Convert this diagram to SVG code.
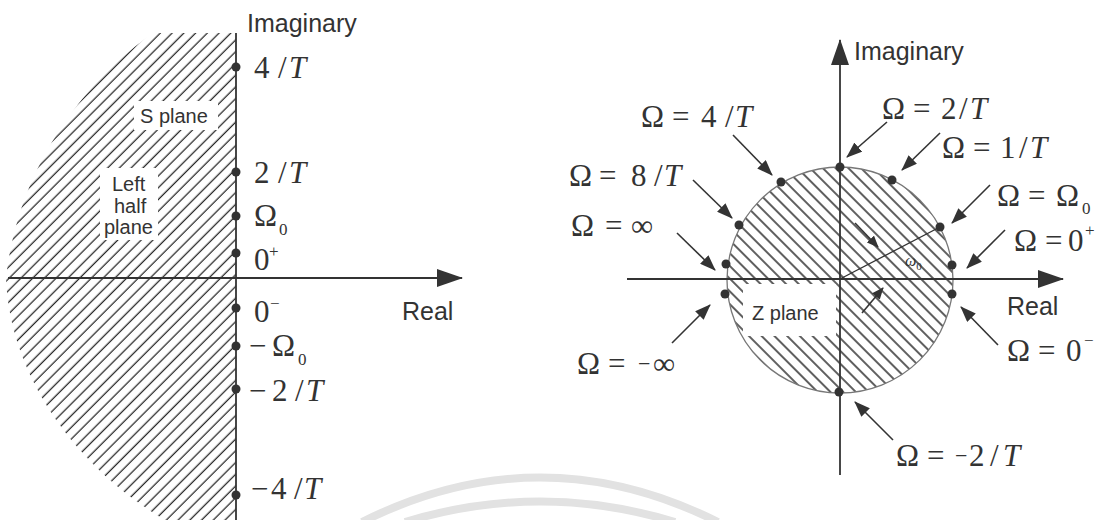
<svg xmlns="http://www.w3.org/2000/svg" width="1106" height="520" viewBox="0 0 1106 520">
<style>
.m{font-family:"Liberation Serif","Times New Roman",serif;font-size:31px;fill:#333}
.i{font-style:italic}
.sb{font-size:17px}
.mn{font-size:22px}
.s{font-family:"Liberation Sans",Arial,sans-serif;font-size:25px;fill:#333}
.l{font-family:"Liberation Sans",Arial,sans-serif;font-size:20px;fill:#333}
.ax{stroke:#333;stroke-width:1.8;fill:none}
.c{stroke:#333;stroke-width:1.6;fill:none}
.dot{fill:#333}
.wm{stroke:#e2e2e2;stroke-width:8;fill:none}
</style>
<defs>
<pattern id="hL" patternUnits="userSpaceOnUse" width="8.3" height="20" patternTransform="rotate(45)">
<line x1="4" y1="-2" x2="4" y2="22" stroke="#2a2a2a" stroke-width="1.3"/>
</pattern>
<pattern id="hR" patternUnits="userSpaceOnUse" width="9" height="20" patternTransform="rotate(-45)">
<line x1="4" y1="-2" x2="4" y2="22" stroke="#2a2a2a" stroke-width="1.5"/>
</pattern>
<marker id="axA" markerUnits="userSpaceOnUse" markerWidth="26" markerHeight="18" viewBox="0 0 26 18" refX="25" refY="9" orient="auto">
<path d="M0,0 L26,9 L0,18 Z" fill="#333"/>
</marker>
<marker id="ah" markerUnits="userSpaceOnUse" markerWidth="16" markerHeight="12" viewBox="0 0 16 12" refX="15" refY="6" orient="auto">
<path d="M0,0 L16,6 L0,12 Z" fill="#333"/>
</marker>
<marker id="ahs" markerUnits="userSpaceOnUse" markerWidth="12" markerHeight="10" viewBox="0 0 12 10" refX="11" refY="5" orient="auto">
<path d="M0,0 L12,5 L0,10 Z" fill="#333"/>
</marker>
</defs>
<rect width="1106" height="520" fill="#ffffff"/>

<g id="watermark">
<path class="wm" d="M362,522 Q540,433 718,522"/>
<path class="wm" d="M405,522 Q540,481 675,522"/>
</g>

<g id="s-plane">
<path d="M236,33 L153,33 C80,85 18,170 6,278 C10,380 80,470 165,520 L236,520 Z" fill="url(#hL)"/>
<rect x="134" y="101" width="84" height="29" fill="#fff"/>
<rect x="100" y="168" width="58" height="72" fill="#fff"/>
<text class="l" x="140" y="123">S plane</text>
<text class="l" x="112" y="191">Left</text>
<text class="l" x="114" y="213">half</text>
<text class="l" x="104" y="234">plane</text>
</g>

<g id="s-axes">
<line class="ax" x1="236" y1="33" x2="236" y2="520"/>
<line class="ax" x1="8" y1="278" x2="462" y2="278" marker-end="url(#axA)"/>
<text class="s" x="247" y="32">Imaginary</text>
<text class="s" x="402" y="320">Real</text>
</g>

<g id="s-points">
<circle class="dot" cx="236" cy="67" r="4.5"/>
<circle class="dot" cx="236" cy="172" r="4.5"/>
<circle class="dot" cx="236" cy="216" r="4.5"/>
<circle class="dot" cx="236" cy="253" r="4.5"/>
<circle class="dot" cx="236" cy="308" r="4.5"/>
<circle class="dot" cx="236" cy="346" r="4.5"/>
<circle class="dot" cx="236" cy="389" r="4.5"/>
<circle class="dot" cx="236" cy="495" r="4.5"/>
</g>

<g id="s-labels">
<text class="m" y="78"><tspan x="254">4</tspan><tspan x="278">/</tspan><tspan x="289" class="i">T</tspan></text>
<text class="m" y="183"><tspan x="254">2</tspan><tspan x="278">/</tspan><tspan x="289" class="i">T</tspan></text>
<text class="m" y="226"><tspan x="254">Ω</tspan><tspan x="279" y="235" class="sb">0</tspan></text>
<text class="m" y="270"><tspan x="254">0</tspan><tspan x="269" y="257" class="sb">+</tspan></text>
<text class="m" y="322"><tspan x="254">0</tspan><tspan x="270" y="309" class="sb">−</tspan></text>
<text class="m" y="356"><tspan x="249">−</tspan><tspan x="272">Ω</tspan><tspan x="298" y="365" class="sb">0</tspan></text>
<text class="m" y="401"><tspan x="249">−</tspan><tspan x="272">2</tspan><tspan x="295">/</tspan><tspan x="306" class="i">T</tspan></text>
<text class="m" y="499"><tspan x="251">−</tspan><tspan x="271">4</tspan><tspan x="294">/</tspan><tspan x="304" class="i">T</tspan></text>
</g>

<g id="z-plane">
<circle cx="840" cy="280" r="113" fill="url(#hR)" stroke="#777" stroke-width="1.3"/>
<rect x="743" y="284" width="93" height="52" fill="#fff"/>
<text class="l" x="752" y="320">Z plane</text>
</g>

<g id="z-axes">
<line class="ax" x1="840" y1="475" x2="840" y2="40" marker-end="url(#axA)"/>
<line class="ax" x1="627" y1="279" x2="1063" y2="279" marker-end="url(#axA)"/>
<text class="s" x="854" y="60">Imaginary</text>
<text class="s" x="1007" y="315">Real</text>
</g>

<g id="z-points">
<circle class="dot" cx="840" cy="167" r="4.5"/>
<circle class="dot" cx="892" cy="180" r="4.5"/>
<circle class="dot" cx="940" cy="227" r="4.5"/>
<circle class="dot" cx="952" cy="265" r="4.5"/>
<circle class="dot" cx="952" cy="294" r="4.5"/>
<circle class="dot" cx="839" cy="392" r="4.5"/>
<circle class="dot" cx="781" cy="182" r="4.5"/>
<circle class="dot" cx="739" cy="225" r="4.5"/>
<circle class="dot" cx="726" cy="264" r="4.5"/>
<circle class="dot" cx="725" cy="294" r="4.5"/>
</g>

<g id="connectors">
<line class="c" x1="733" y1="135" x2="772" y2="175" marker-end="url(#ah)"/>
<line class="c" x1="693" y1="180" x2="732" y2="218" marker-end="url(#ah)"/>
<line class="c" x1="677" y1="233" x2="715" y2="270" marker-end="url(#ah)"/>
<line class="c" x1="672" y1="343" x2="710" y2="305" marker-end="url(#ah)"/>
<line class="c" x1="887" y1="122" x2="847" y2="157" marker-end="url(#ah)"/>
<line class="c" x1="940" y1="133" x2="902" y2="170" marker-end="url(#ah)"/>
<line class="c" x1="990" y1="185" x2="952" y2="223" marker-end="url(#ah)"/>
<line class="c" x1="1005" y1="230" x2="967" y2="268" marker-end="url(#ah)"/>
<line class="c" x1="998" y1="345" x2="961" y2="307" marker-end="url(#ah)"/>
<line class="c" x1="893" y1="440" x2="855" y2="402" marker-end="url(#ah)"/>
<line stroke="#333" stroke-width="1.3" x1="840" y1="279" x2="940" y2="227"/>
<line class="c" x1="855" y1="223" x2="878" y2="247" marker-end="url(#ahs)"/>
<line class="c" x1="862" y1="313" x2="883" y2="288" marker-end="url(#ahs)"/>
</g>

<g id="z-labels">
<text class="m" y="127"><tspan x="641">Ω</tspan><tspan x="672">=</tspan><tspan x="701">4</tspan><tspan x="725">/</tspan><tspan x="735" class="i">T</tspan></text>
<text class="m" y="186"><tspan x="569">Ω</tspan><tspan x="599">=</tspan><tspan x="631">8</tspan><tspan x="654">/</tspan><tspan x="664" class="i">T</tspan></text>
<text class="m" y="236"><tspan x="571">Ω</tspan><tspan x="605">=</tspan><tspan x="631">∞</tspan></text>
<text class="m" y="374"><tspan x="577">Ω</tspan><tspan x="608">=</tspan><tspan x="638" class="mn" dy="-3">−</tspan><tspan x="653" dy="3">∞</tspan></text>
<text class="m" y="119"><tspan x="882">Ω</tspan><tspan x="913">=</tspan><tspan x="941">2</tspan><tspan x="959">/</tspan><tspan x="970" class="i">T</tspan></text>
<text class="m" y="158"><tspan x="942">Ω</tspan><tspan x="973">=</tspan><tspan x="1000">1</tspan><tspan x="1019">/</tspan><tspan x="1030" class="i">T</tspan></text>
<text class="m" y="206"><tspan x="997">Ω</tspan><tspan x="1028">=</tspan><tspan x="1056">Ω</tspan><tspan x="1082" y="214" class="sb">0</tspan></text>
<text class="m" y="251"><tspan x="1014">Ω</tspan><tspan x="1045">=</tspan><tspan x="1068">0</tspan><tspan x="1085" y="236" class="sb">+</tspan></text>
<text class="m" y="361"><tspan x="1007">Ω</tspan><tspan x="1038">=</tspan><tspan x="1066">0</tspan><tspan x="1084" y="346" class="sb">−</tspan></text>
<text class="m" y="466"><tspan x="896">Ω</tspan><tspan x="927">=</tspan><tspan x="955" class="mn" dy="-3">−</tspan><tspan x="969" dy="3">2</tspan><tspan x="990">/</tspan><tspan x="1003" class="i">T</tspan></text>
<text class="m i" style="font-size:16px" x="905" y="266">ω<tspan dy="4" style="font-size:11px;font-style:normal">0</tspan></text>
</g>
</svg>
